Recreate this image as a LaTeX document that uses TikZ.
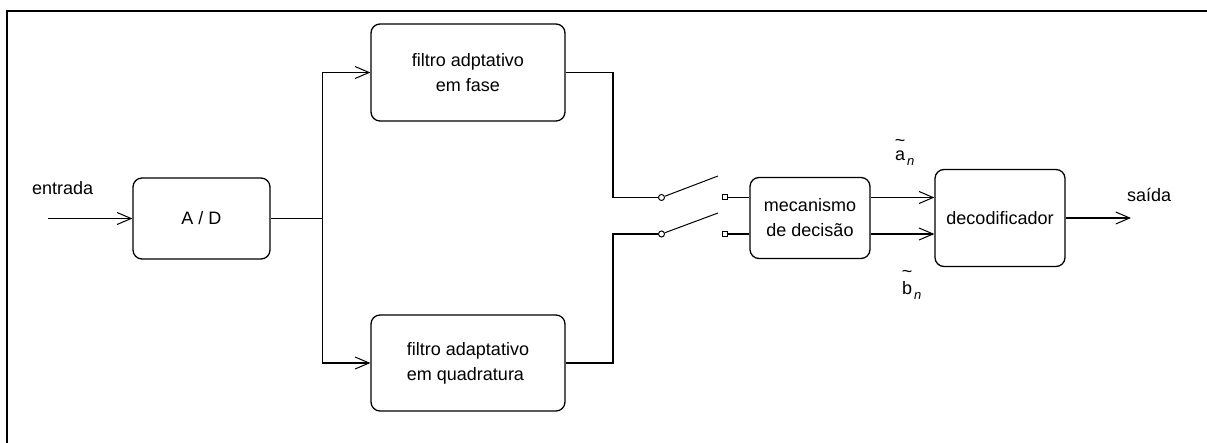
\documentclass[tikz,border=0pt]{standalone}
\usepackage{fontspec}
\setmainfont{Liberation Sans}
\usetikzlibrary{arrows.meta}
\newcommand\tildeover[2]{\ooalign{#2\cr\hidewidth\raisebox{#1}{\textasciitilde}\hidewidth\cr}}
\newcommand\subn{\kern2pt\raisebox{-5pt}{\fontsize{13}{13}\selectfont\itshape n}}
\begin{document}
\begin{tikzpicture}[x=1pt,y=-1pt,
  blk/.style={draw, line width=1.3pt, rounded corners=9pt, inner sep=0pt,
    font=\fontsize{18}{25}\selectfont},
  wire/.style={line width=1.3pt},
  arr/.style={wire, -{Straight Barb[length=14pt,width=12pt,line width=1pt]}},
  lbl/.style={font=\fontsize{18}{25}\selectfont, inner sep=0pt},
  pivot/.style={draw, circle, line width=1pt, minimum size=6pt, inner sep=0pt},
  contact/.style={draw, rectangle, line width=1pt, minimum size=5pt, inner sep=0pt},
]
\useasboundingbox (0,0) rectangle (1207,443);
\draw[line width=2.5pt] (7,443) -- (7,11) -- (1207,11);

% blocks
\node[blk, minimum width=137pt, minimum height=81pt] (ad) at (201.5,218.5) {A / D};
\node[blk, minimum width=194pt, minimum height=97pt, align=center] (ff) at (468,72.5) {filtro adptativo\\em fase};
\node[blk, minimum width=194pt, minimum height=96pt, align=left] (fq) at (468,363) {filtro adaptativo\\em quadratura};
\node[blk, minimum width=120pt, minimum height=81pt, align=center] (mec) at (810,218) {mecanismo\\de decisão};
\node[blk, minimum width=130pt, minimum height=97pt] (dec) at (1000,218) {decodificador};

% labels
\node[lbl, anchor=base west] (lin) at (32,195) {entrada};
\node[lbl, anchor=base west] (lout) at (1127,202) {saída};
\node[lbl, anchor=base west] (la) at (895,160.5) {\tildeover{14pt}{a}\subn};
\node[lbl, anchor=base west] (lb) at (902,295) {\tildeover{17pt}{b}\subn};

% input
\coordinate (inL) at (48,218.5);
\draw[arr] (inL) -- (ad.west);
\coordinate (j) at (322.5,218.5);
\draw[wire] (ad.east) -- (j);
\draw[arr] (j) |- (ff.west);
\draw[arr] (j) |- (fq.west);

% switch
\node[pivot] (p1) at (661.5,197.5) {};
\node[pivot] (p2) at (661.5,234) {};
\coordinate (r1) at (613,197.5);
\coordinate (r2) at (613,234);
\draw[wire] (ff.east) -| (r1) -- (p1.west);
\draw[wire] (fq.east) -| (r2) -- (p2.west);
\coordinate (b1) at (718,176);
\coordinate (b2) at (718,213);
\draw[line width=1pt] (p1) -- (b1);
\draw[line width=1pt] (p2) -- (b2);
\node[contact] (c1) at (725,197.5) {};
\node[contact] (c2) at (725,234) {};
\draw[wire] (c1.east) -- (c1 -| mec.west);
\draw[wire] (c2.east) -- (c2 -| mec.west);

% to decoder
\draw[arr] (c1 -| mec.east) -- (c1 -| dec.west);
\draw[arr] (c2 -| mec.east) -- (c2 -| dec.west);

% output
\coordinate (out) at (1131,218);
\draw[arr] (dec.east) -- (out);
\end{tikzpicture}
\end{document}
